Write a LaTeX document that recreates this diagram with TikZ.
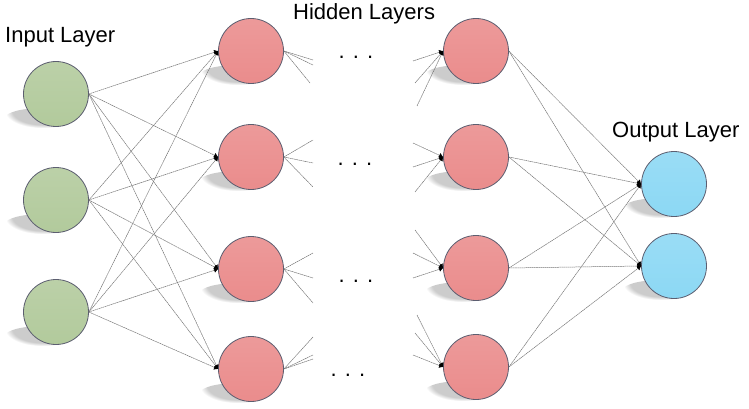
\documentclass[tikz,border=0pt]{standalone}
\usepackage{fontspec}
\setmainfont{Liberation Sans}
\usetikzlibrary{arrows.meta,fadings}

\definecolor{inputc}{RGB}{178,202,156}
\definecolor{hiddenc}{RGB}{234,140,140}
\definecolor{outputc}{RGB}{140,216,244}
\definecolor{rimc}{RGB}{92,94,112}

\tikzstyle{neuron}=[draw=rimc,line width=0.8pt,circle,minimum size=65pt,inner sep=0pt]
\tikzstyle{floorshadow}=[fill=gray!40,path fading=circle with fuzzy edge 20 percent]
\tikzstyle{edge} = [draw=black!55,line width=0.5pt,dash pattern=on 1.6pt off 0.5pt,-{Latex[length=4pt,width=5pt,color=black]}]
\tikzstyle{stub} = [draw=black!55,line width=0.5pt,dash pattern=on 1.6pt off 0.5pt]
\tikzstyle{layer} = [font=\fontsize{22}{26}\selectfont,anchor=base west,inner sep=0pt]
\tikzstyle{gap} = [font=\fontsize{22}{26}\selectfont,anchor=base,inner sep=0pt]
\newcommand{\nnunit}{1pt}

\begin{document}
\begin{tikzpicture}[x=\nnunit, y=-\nnunit]
    \useasboundingbox (0,0) rectangle (749,409);
    % First we draw the neurons, each over its shadow
    \foreach \pos/\name/\col in {{(56,94)/i1/inputc}, {(56,200)/i2/inputc}, {(56,312)/i3/inputc},
        {(251,51)/ha1/hiddenc}, {(251,157)/ha2/hiddenc}, {(251,269)/ha3/hiddenc}, {(251,369)/ha4/hiddenc},
        {(476,51)/hb1/hiddenc}, {(476,157)/hb2/hiddenc}, {(476,268)/hb3/hiddenc}, {(476,367)/hb4/hiddenc},
        {(674,184)/o1/outputc}, {(674,266)/o2/outputc}}
    {
        \fill[floorshadow] \pos ++(-13,24) ellipse (38pt and 10pt);
        \node[neuron, top color=\col!88!white, middle color=\col, bottom color=\col] (\name) at \pos {};
    }
    % Loose ends of the cut connections between the hidden layers
    \foreach \name/\x/\y in {out11/313/60, out12/313/65, out13/310/83,
        out21/313/140, out22/313/163, out23/313/187,
        out31/313/253, out32/313/278, out33/313/303,
        out41/313/337, out42/313/355, out43/313/359,
        in11/413/61, in12/415/83, in13/417/106,
        in21/413/143, in22/413/167, in23/415/192,
        in31/415/230, in32/413/253, in33/413/278,
        in41/417/315, in42/415/333, in43/413/355}
        \coordinate (\name) at (\x,\y);
    % Connect the layers
    \foreach \source in {i1,i2,i3}
        \foreach \dest in {ha1,ha2,ha3,ha4}
            \path[edge] (\source.east) -- (\dest.west);
    \foreach \source in {hb1,hb2,hb3,hb4}
        \foreach \dest in {o1,o2}
            \path[edge] (\source.east) -- (\dest.west);
    \foreach \r in {1,2,3,4}
        \foreach \k in {1,2,3}
        {
            \path[stub] (ha\r.east) -- (out\r\k);
            \path[edge] (in\r\k) -- (hb\r.west);
        }
    % Labels and dots
    \node[layer] (inlabel) at (5,43) {Input Layer};
    \node[layer] (hidlabel) at (293,20) {Hidden Layers};
    \node[layer] (outlabel) at (612,138) {Output Layer};
    \foreach \name/\x/\y in {dots1/356/59, dots2/355/165, dots3/356/282, dots4/348/376}
        \node[gap] (\name) at (\x,\y) {. . .};
\end{tikzpicture}
\end{document}
